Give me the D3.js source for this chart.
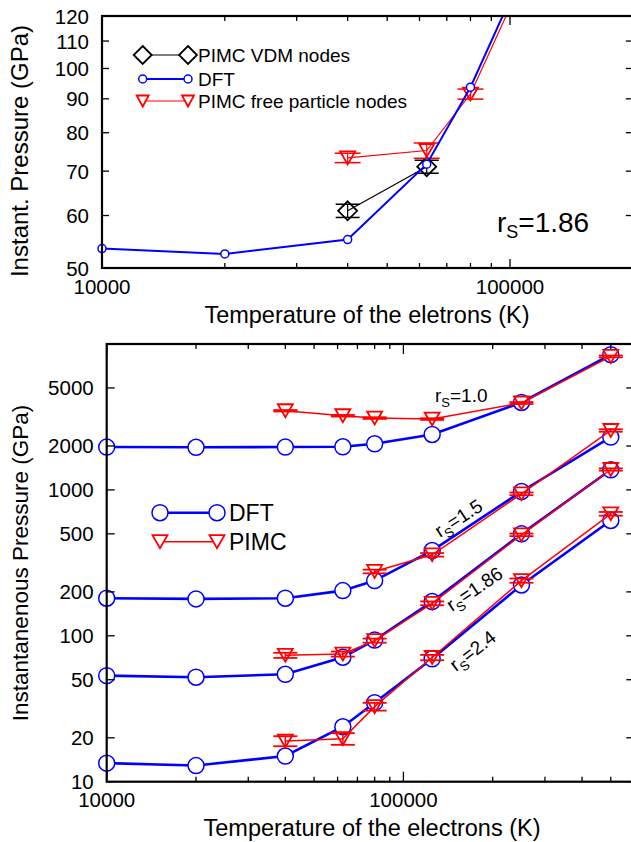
<!DOCTYPE html>
<html><head><meta charset="utf-8">
<script src="https://cdn.jsdelivr.net/npm/d3@7"></script>
<style>
html,body{margin:0;padding:0;background:#fff;}
svg{display:block;font-family:"Liberation Sans",Arial,sans-serif;}
</style></head>
<body>
<svg id="chart" width="631" height="842"></svg>
<script>
// ---------- DATA (top panel, r_s = 1.86) ----------
const topDftTemps = [10000, 20000, 40000, 62500, 80000, 125000];
const topDft = [53.5, 52.5, 55.2, 71.7, 93.7, 172];
const topVdmTemps = [40000, 62500];
const topVdm = [61.0, 71.1];
const topVdmErr = [1.4, 1.6];
const topFreeTemps = [40000, 62500, 80000, 125000];
const topFree = [73.3, 75.2, 91.5, 167];
const topFreeErr = [1.2, 2.0, 1.6, 5];
const topYTicks = [50, 60, 70, 80, 90, 100, 110, 120];
const topXLabels = [10000, 100000];
const topXMinor = [20000, 30000, 40000, 50000, 60000, 70000, 80000, 90000, 200000];
const topLegend = ["PIMC VDM nodes", "DFT", "PIMC free particle nodes"];

// ---------- DATA (bottom panel) ----------
const temps = [10000, 20000, 40000, 62500, 80000, 125000, 250000, 500000];
const dft10 = [1966, 1960, 1966, 1975, 2070, 2399, 3975, 8450];
const dft15 = [181, 179, 181, 204, 239, 384, 975, 2302];
const dft186 = [53.3, 52, 54.5, 71.3, 93.5, 171.7, 500, 1373];
const dft24 = [13.4, 12.9, 15.0, 23.8, 34.8, 69.5, 223, 617];
const pimcTemps10 = [40000, 62500, 80000, 125000, 250000, 500000];
const pimc10 = [3487, 3223, 3107, 3059, 3940, 8220];
const pimc10Err = [40, 40, 40, 40, 60, 120];
const pimcTemps15 = [80000, 125000, 250000, 500000];
const pimc15 = [276, 359, 940, 2554];
const pimc15Err = [8, 10, 20, 50];
const pimcTemps = [40000, 62500, 80000, 125000, 250000, 500000];
const pimc186 = [73.5, 75, 92.7, 167, 492, 1380];
const pimc186Err = [3, 3, 3, 5, 10, 25];
const pimc24 = [19.0, 19.7, 32.7, 71, 239, 686];
const pimc24Err = [1.5, 1.8, 2, 3, 8, 20];
const botYTicks = [10, 20, 50, 100, 200, 500, 1000, 2000, 5000];
const botXLabels = [10000, 100000];
const botXMinor = [20000, 30000, 40000, 50000, 60000, 70000, 80000, 90000, 200000, 300000, 400000, 500000, 600000];
const botLegend = ["DFT", "PIMC"];
const rsLabels = ["1.0", "1.5", "1.86", "2.4"];

const svg = d3.select("#chart");
const BLUE = "#0000ff", RED = "#ff0000";

function triPath(w, h) {
  return `M${-w/2},${-h/2}L${w/2},${-h/2}L0,${h/2}Z`;
}
function diaPath(r) {
  return `M0,${-r}L${r},0L0,${r}L${-r},0Z`;
}

function drawFrame(g, x, y, yTicks, xLabels, xMinor, opts) {
  const [x0, x1] = x.range();
  const [yb, yt] = y.range();
  yTicks.forEach(v => {
    const yy = y(v);
    g.append("line").attr("x1", x0).attr("x2", x0 + opts.yTick).attr("y1", yy).attr("y2", yy)
      .attr("stroke", "#000").attr("stroke-width", 1.3);
    g.append("line").attr("x1", x1).attr("x2", x1 - opts.yTick).attr("y1", yy).attr("y2", yy)
      .attr("stroke", "#000").attr("stroke-width", 1.3);
    g.append("text").attr("x", x0 - 13).attr("y", yy).attr("text-anchor", "end")
      .attr("dominant-baseline", "central").attr("font-size", opts.tickFont).text(v);
  });
  const xt = (v, len) => {
    const xx = x(v);
    g.append("line").attr("x1", xx).attr("x2", xx).attr("y1", yb).attr("y2", yb - len)
      .attr("stroke", "#000").attr("stroke-width", 1.3);
    g.append("line").attr("x1", xx).attr("x2", xx).attr("y1", yt).attr("y2", yt + len)
      .attr("stroke", "#000").attr("stroke-width", 1.3);
  };
  xLabels.forEach(v => {
    xt(v, opts.xMajor);
    g.append("text").attr("x", x(v)).attr("y", yb + opts.xLabelDy).attr("text-anchor", "middle")
      .attr("font-size", opts.tickFont).text(v);
  });
  xMinor.forEach(v => xt(v, opts.xMinorLen));
  g.append("rect").attr("x", x0).attr("y", yt).attr("width", x1 - x0).attr("height", yb - yt)
    .attr("fill", "none").attr("stroke", "#000").attr("stroke-width", 2.2);
}

// ================= TOP PANEL =================
{
  const x = d3.scaleLog().domain([10000, 200000]).range([102, 102 + 408 * Math.log10(20)]);
  const y = d3.scaleLog().domain([50, 120]).range([268, 16]);
  const g = svg.append("g");
  svg.append("clipPath").attr("id", "clipTop").append("rect")
    .attr("x", 0).attr("y", 16).attr("width", 631).attr("height", 268 - 16);

  const plot = g.append("g").attr("clip-path", "url(#clipTop)");
  const line = d3.line().x(d => x(d[0])).y(d => y(d[1]));

  const vdm = topVdmTemps.map((t, i) => [t, topVdm[i], topVdmErr[i]]);
  plot.append("path").attr("d", line(vdm)).attr("fill", "none").attr("stroke", "#000").attr("stroke-width", 1.2);
  vdm.forEach(d => {
    const xx = x(d[0]);
    plot.append("line").attr("x1", xx).attr("x2", xx).attr("y1", y(d[1] - d[2])).attr("y2", y(d[1] + d[2])).attr("stroke", "#000").attr("stroke-width", 1.2);
    [d[1] - d[2], d[1] + d[2]].forEach(v => plot.append("line").attr("x1", xx - 12).attr("x2", xx + 12)
      .attr("y1", y(v)).attr("y2", y(v)).attr("stroke", "#000").attr("stroke-width", 1.5));
    plot.append("path").attr("d", diaPath(9.5)).attr("transform", `translate(${xx},${y(d[1])})`)
      .attr("fill", "none").attr("stroke", "#000").attr("stroke-width", 1.8);
  });

  const fr = topFreeTemps.map((t, i) => [t, topFree[i], topFreeErr[i]]);
  plot.append("path").attr("d", line(fr)).attr("fill", "none").attr("stroke", RED).attr("stroke-width", 1.2);
  fr.forEach(d => {
    const xx = x(d[0]);
    plot.append("line").attr("x1", xx).attr("x2", xx).attr("y1", y(d[1] - d[2])).attr("y2", y(d[1] + d[2])).attr("stroke", RED).attr("stroke-width", 1.2);
    [d[1] - d[2], d[1] + d[2]].forEach(v => plot.append("line").attr("x1", xx - 13).attr("x2", xx + 13)
      .attr("y1", y(v)).attr("y2", y(v)).attr("stroke", RED).attr("stroke-width", 1.5));
    plot.append("path").attr("d", triPath(15, 13)).attr("transform", `translate(${xx},${y(d[1])})`)
      .attr("fill", "none").attr("stroke", RED).attr("stroke-width", 1.8);
  });

  const df = topDftTemps.map((t, i) => [t, topDft[i]]);
  plot.append("path").attr("d", line(df)).attr("fill", "none").attr("stroke", BLUE).attr("stroke-width", 2);
  df.forEach(d => plot.append("circle").attr("cx", x(d[0])).attr("cy", y(d[1])).attr("r", 4)
    .attr("fill", "#fff").attr("stroke", BLUE).attr("stroke-width", 1.5));

  drawFrame(g, x, y, topYTicks, topXLabels, topXMinor,
    { yTick: 7, xMajor: 9, xMinorLen: 5, tickFont: 20.5, xLabelDy: 26 });

  const lg = g.append("g");
  const ly = [55, 79, 101], lx1 = 142.7, lx2 = 188;
  lg.append("line").attr("x1", lx1).attr("x2", lx2).attr("y1", ly[0]).attr("y2", ly[0]).attr("stroke", "#000").attr("stroke-width", 1.2);
  [lx1, lx2].forEach(xx => lg.append("path").attr("d", diaPath(9)).attr("transform", `translate(${xx},${ly[0]})`)
    .attr("fill", "#fff").attr("stroke", "#000").attr("stroke-width", 1.8));
  lg.append("line").attr("x1", lx1).attr("x2", lx2).attr("y1", ly[1]).attr("y2", ly[1]).attr("stroke", BLUE).attr("stroke-width", 2);
  [lx1, lx2].forEach(xx => lg.append("circle").attr("cx", xx).attr("cy", ly[1]).attr("r", 4)
    .attr("fill", "#fff").attr("stroke", BLUE).attr("stroke-width", 1.5));
  lg.append("line").attr("x1", lx1).attr("x2", lx2).attr("y1", ly[2]).attr("y2", ly[2]).attr("stroke", RED).attr("stroke-width", 1.2);
  [lx1, lx2].forEach(xx => lg.append("path").attr("d", triPath(12, 11)).attr("transform", `translate(${xx},${ly[2]})`)
    .attr("fill", "#fff").attr("stroke", RED).attr("stroke-width", 1.8));
  topLegend.forEach((t, i) => lg.append("text").attr("x", 198).attr("y", ly[i]).attr("dominant-baseline", "central")
    .attr("font-size", 19).text(t));

  const rt = g.append("text").attr("x", 497).attr("y", 232).attr("font-size", 28);
  rt.append("tspan").text("r");
  rt.append("tspan").attr("font-size", 18).attr("dy", 6).text("S");
  rt.append("tspan").attr("dy", -6).text("=1.86");

  g.append("text").attr("transform", "translate(28,151) rotate(-90)").attr("text-anchor", "middle")
    .attr("font-size", 24).text("Instant. Pressure (GPa)");
  g.append("text").attr("x", 367).attr("y", 323).attr("text-anchor", "middle")
    .attr("font-size", 23.5).text("Temperature of the eletrons (K)");
}

// ================= BOTTOM PANEL =================
{
  const x = d3.scaleLog().domain([10000, 600000]).range([106.7, 106.7 + 296.7 * Math.log10(60)]);
  const y = d3.scaleLog().domain([10, 10000]).range([781.7, 344]);
  const g = svg.append("g");
  const line = d3.line().x(d => x(d[0])).y(d => y(d[1]));

  const dftSeries = [dft10, dft15, dft186, dft24];
  const pimcSeries = [
    [pimcTemps10, pimc10, pimc10Err],
    [pimcTemps15, pimc15, pimc15Err],
    [pimcTemps, pimc186, pimc186Err],
    [pimcTemps, pimc24, pimc24Err]
  ];

  dftSeries.forEach(vals => {
    const pts = temps.map((t, i) => [t, vals[i]]);
    g.append("path").attr("d", line(pts)).attr("fill", "none").attr("stroke", BLUE).attr("stroke-width", 2.6);
  });
  dftSeries.forEach(vals => {
    temps.forEach((t, i) => g.append("circle").attr("cx", x(t)).attr("cy", y(vals[i])).attr("r", 8)
      .attr("fill", "#fff").attr("stroke", BLUE).attr("stroke-width", 1.5));
  });
  pimcSeries.forEach(([ts, vals, errs]) => {
    const pts = ts.map((t, i) => [t, vals[i], errs[i]]);
    g.append("path").attr("d", line(pts)).attr("fill", "none").attr("stroke", RED).attr("stroke-width", 1.5);
    pts.forEach(d => {
      const xx = x(d[0]);
      g.append("line").attr("x1", xx).attr("x2", xx).attr("y1", y(d[1] - d[2])).attr("y2", y(d[1] + d[2])).attr("stroke", RED).attr("stroke-width", 1.5);
      [d[1] - d[2], d[1] + d[2]].forEach(v => g.append("line").attr("x1", xx - 12).attr("x2", xx + 12)
        .attr("y1", y(v)).attr("y2", y(v)).attr("stroke", RED).attr("stroke-width", 1.8));
      g.append("path").attr("d", triPath(15, 13)).attr("transform", `translate(${xx},${y(d[1])})`)
        .attr("fill", "none").attr("stroke", RED).attr("stroke-width", 1.8);
    });
  });

  drawFrame(g, x, y, botYTicks, botXLabels, botXMinor,
    { yTick: 8, xMajor: 10, xMinorLen: 5, tickFont: 20.5, xLabelDy: 25 });

  const ly = [512.7, 541.7], lx1 = 160, lx2 = 217;
  g.append("line").attr("x1", lx1).attr("x2", lx2).attr("y1", ly[0]).attr("y2", ly[0]).attr("stroke", BLUE).attr("stroke-width", 2.6);
  [lx1, lx2].forEach(xx => g.append("circle").attr("cx", xx).attr("cy", ly[0]).attr("r", 8)
    .attr("fill", "#fff").attr("stroke", BLUE).attr("stroke-width", 1.5));
  g.append("line").attr("x1", lx1).attr("x2", lx2).attr("y1", ly[1]).attr("y2", ly[1]).attr("stroke", RED).attr("stroke-width", 1.5);
  [lx1, lx2].forEach(xx => g.append("path").attr("d", triPath(15, 13)).attr("transform", `translate(${xx},${ly[1]})`)
    .attr("fill", "#fff").attr("stroke", RED).attr("stroke-width", 1.8));
  botLegend.forEach((t, i) => g.append("text").attr("x", 229).attr("y", ly[i]).attr("dominant-baseline", "central")
    .attr("font-size", 23).text(t));

  const rsPos = [[435, 402, 0], [440, 538, -33], [452, 612, -34], [456, 672, -38]];
  rsLabels.forEach((lab, i) => {
    const [px, py, a] = rsPos[i];
    const t = g.append("text").attr("transform", `translate(${px},${py}) rotate(${a})`).attr("font-size", 19);
    t.append("tspan").text("r");
    t.append("tspan").attr("font-size", 13).attr("dy", 5).text("S");
    t.append("tspan").attr("dy", -5).text("=" + lab);
  });

  g.append("text").attr("transform", "translate(28,563) rotate(-90)").attr("text-anchor", "middle")
    .attr("font-size", 22.5).text("Instantanenous Pressure (GPa)");
  g.append("text").attr("x", 372).attr("y", 836).attr("text-anchor", "middle")
    .attr("font-size", 23.5).text("Temperature of the electrons (K)");
}
</script>
</body></html>
